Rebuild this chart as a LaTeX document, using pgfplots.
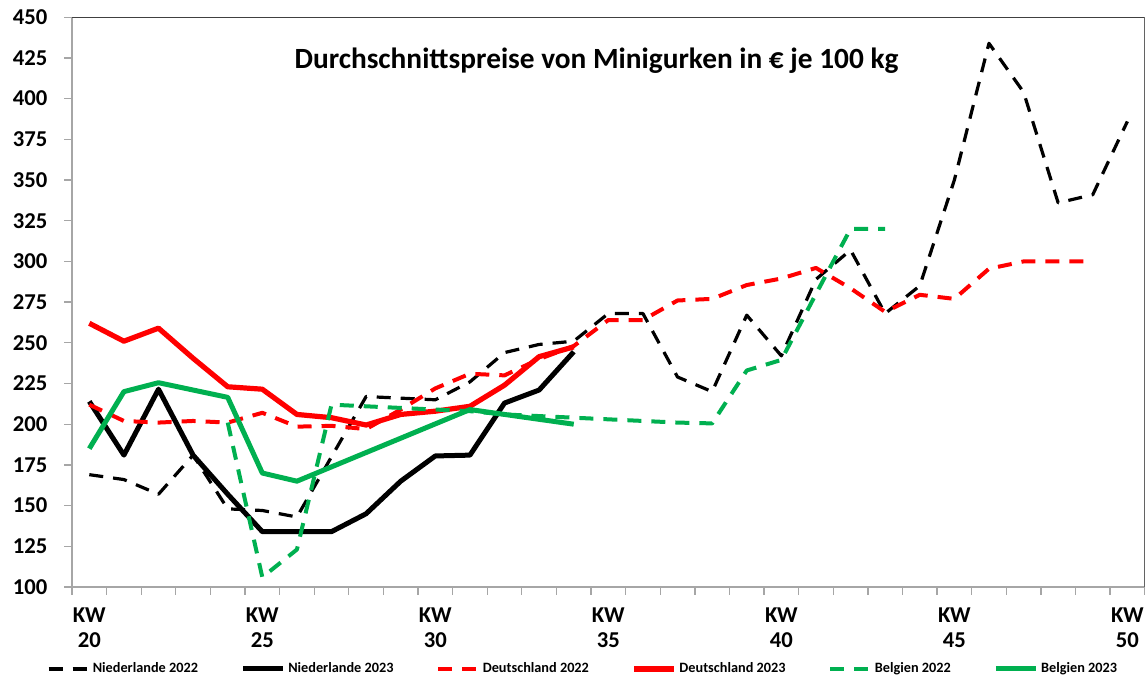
\documentclass[border=0pt]{standalone}
\usepackage{fontspec}
\setmainfont{Carlito}
\usepackage{pgfplots}
\pgfplotsset{compat=1.18}
\definecolor{exgreen}{HTML}{00B050}
\definecolor{exred}{HTML}{FF0000}
\definecolor{tickgray}{HTML}{A6A6A6}
\begin{document}
\begin{tikzpicture}
\begin{axis}[
  scale only axis, width=804.5pt, height=427.3pt,
  xmin=19.5, xmax=50.5, ymin=100, ymax=450,
  ytick={100,125,...,450},
  xtick={19.5,20.5,...,50.5},
  xticklabels={{KW\\20},,,,,{KW\\25},,,,,{KW\\30},,,,,{KW\\35},,,,,{KW\\40},,,,,{KW\\45},,,,,{KW\\50},},
  xtick pos=bottom, ytick pos=left,
  tickwidth=-6pt,
  every tick/.style={draw=tickgray, line width=1pt},
  axis line style={draw=tickgray, line width=0.9pt},
  /pgf/number format/assume math mode=true,
  ticklabel style={font=\bfseries\fontsize{17}{19}\selectfont},
  xticklabel style={align=center, yshift=-12pt, xshift=12.976pt},
  yticklabel style={xshift=-15pt},
  legend columns=6,
  legend style={draw=none, fill=none, at={(0,0)}, anchor=west, xshift=-19pt, yshift=-61.5pt, inner sep=0pt,
    font=\bfseries\fontsize{10.7}{12}\selectfont,
    /tikz/every even column/.append style={column sep=30pt}},
  legend image code/.code={\draw[#1] (0pt,0pt) -- (30pt,0pt);},
  line join=round,
]
\addplot[black, line width=2.4pt, dash pattern=on 10.5pt off 7.5pt] coordinates {
(20,169)(21,166)(22,157)(23,181)(24,148)(25,147)(26,143)(27,180)(28,217)(29,216)(30,215)
(31,226)(32,244)(33,249)(34,251)(35,268)(36,268)(37,229)(38,220)(39,267)(40,242)
(41,289)(42,307)(43,268)(44,285)(45,350)(46,434)(47,404)(48,336)(49,341)(50,386)};
\addlegendentry{Niederlande 2022}
\addplot[black, line width=3.75pt] coordinates {
(20,214)(21,181)(22,221.5)(23,181)(24,157)(25,134)(26,134)(27,134)(28,145)(29,165)(30,180.5)
(31,181)(32,213)(33,221)(34,244.5)};
\addlegendentry{Niederlande 2023}
\addplot[exred, line width=3pt, dash pattern=on 10.5pt off 7.5pt] coordinates {
(20,212)(21,202)(22,201)(23,202)(24,201)(25,207)(26,198.5)(27,199)(28,197)(29,209)(30,222)
(31,231)(32,230)(33,240)(34,248)(35,264)(36,264)(37,276)(38,277)(39,285.5)(40,289.5)
(41,296)(42,283.5)(43,269)(44,279.5)(45,277)(46,295.5)(47,300)(48,300)(49,300)};
\addlegendentry{Deutschland 2022}
\addplot[exred, line width=3.9pt] coordinates {
(20,262)(21,251)(22,259)(23,240.5)(24,223)(25,221.5)(26,206)(27,204)(28,199.5)(29,206)(30,208)
(31,211)(32,224)(33,241.5)(34,247.5)};
\addlegendentry{Deutschland 2023}
\addplot[exgreen, line width=3pt, dash pattern=on 10.5pt off 7.5pt] coordinates {
(24,201)(25,106)(26,123)(27,212)(28,211)(29,210)(30,209)(31,208)(32,206)(33,205)(34,204)
(35,203)(36,202)(37,201)(38,200.5)(39,233)(40,239.5)(41,280)(42,320)(43,320)};
\addlegendentry{Belgien 2022}
\addplot[exgreen, line width=3.75pt] coordinates {
(20,185)(21,220)(22,225.5)(23,221)(24,216.5)(25,170)(26,165)(31,209)(32,206)(33,203)(34,200)};
\addlegendentry{Belgien 2023}
\draw[black!75, line width=0.9pt] (rel axis cs:0,1) -- (rel axis cs:1,1) -- (rel axis cs:1,0);
\node[font=\bfseries\fontsize{22}{25}\selectfont] at (rel axis cs:0.489,0.923) {Durchschnittspreise von Minigurken in € je 100 kg};
\end{axis}
\pgfresetboundingbox
\path (-54pt,-69.75pt) rectangle (806.25pt,440.25pt);
\end{tikzpicture}
\end{document}
